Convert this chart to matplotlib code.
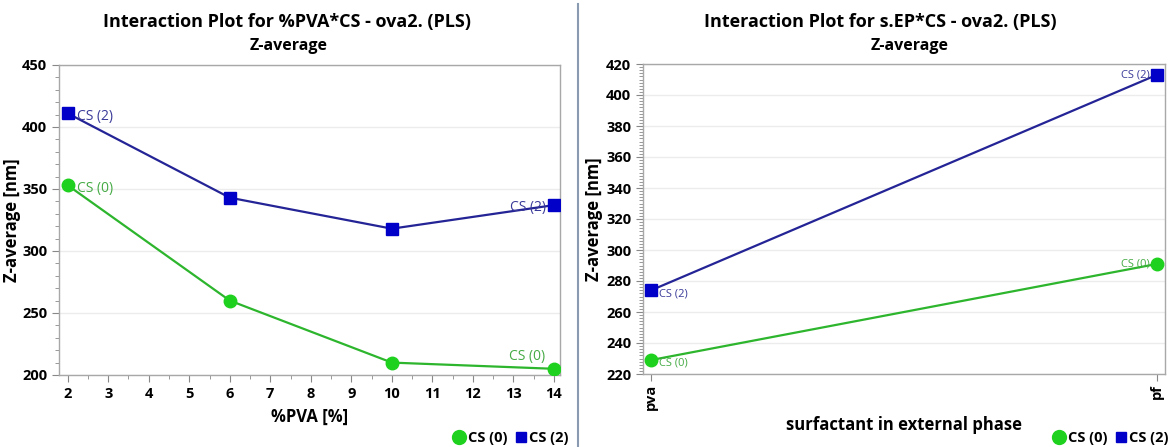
import matplotlib
matplotlib.use('Agg')

import matplotlib.pyplot as plt
from matplotlib.ticker import MultipleLocator
from matplotlib.lines import Line2D

plt.rcParams['font.family'] = ['Open Sans', 'DejaVu Sans']

# left panel: %PVA * CS
pva_levels = [2, 6, 10, 14]
pva_cs0 = [353, 260, 210, 205]
pva_cs2 = [411, 343, 318, 337]

# right panel: surfactant in external phase * CS
surf_labels = ['pva', 'pf']
surf_cs0 = [229, 291]
surf_cs2 = [274, 413]

series_names = ['CS (0)', 'CS (2)']

green_line = '#2db52d'
green_mark = '#1fd11f'
green_text = '#44aa44'
blue_line = '#242496'
blue_mark = '#0000c8'
blue_text = '#3a3a99'
spine_col = '#a8a8a8'

fig = plt.figure(figsize=(11.7, 4.47), dpi=100)
fig.patch.set_facecolor('white')

ax1 = fig.add_axes([59 / 1170, 1 - 375 / 447, (560 - 59) / 1170, (375 - 65) / 447])
ax2 = fig.add_axes([643 / 1170, 1 - 374 / 447, (1165 - 643) / 1170, (374 - 64) / 447])


def style_axes(ax):
    for s in ax.spines.values():
        s.set_color(spine_col)
        s.set_linewidth(1.0)
    ax.tick_params(which='both', colors='#888888', labelcolor='black')
    ax.tick_params(which='major', length=5)
    ax.tick_params(which='minor', length=3)
    ax.grid(axis='y', which='major', color='#ececec', linewidth=1.0)
    ax.set_axisbelow(True)
    for lab in ax.get_yticklabels() + ax.get_xticklabels():
        lab.set_fontweight('bold')
        lab.set_fontsize(10.5)


# ---- left panel
ax1.plot(pva_levels, pva_cs0, color=green_line, lw=1.6, marker='o', ms=9,
         mfc=green_mark, mec=green_mark, zorder=3)
ax1.plot(pva_levels, pva_cs2, color=blue_line, lw=1.6, marker='s', ms=8,
         mfc=blue_mark, mec=blue_mark, zorder=3)
ax1.set_xlim(1.785, 14.15)
ax1.set_ylim(200, 450)
ax1.set_xticks(range(2, 15))
ax1.xaxis.set_minor_locator(MultipleLocator(0.5))
ax1.yaxis.set_major_locator(MultipleLocator(50))
ax1.yaxis.set_minor_locator(MultipleLocator(10))
style_axes(ax1)
ax1.set_xlabel('%PVA [%]', fontsize=12, fontweight='bold', labelpad=5)

ax1.annotate('CS (2)', (pva_levels[0], pva_cs2[0]), xytext=(7, -2), textcoords='offset points',
             color=blue_text, fontsize=10, va='center', ha='left')
ax1.annotate('CS (0)', (pva_levels[0], pva_cs0[0]), xytext=(7, -2), textcoords='offset points',
             color=green_text, fontsize=10, va='center', ha='left')
ax1.annotate('CS (2)', (pva_levels[-1], pva_cs2[-1]), xytext=(-6, -2), textcoords='offset points',
             color=blue_text, fontsize=10, va='center', ha='right')
ax1.annotate('CS (0)', (pva_levels[-1], pva_cs0[-1]), xytext=(-6, 9), textcoords='offset points',
             color=green_text, fontsize=10, va='center', ha='right')

# ---- right panel
xs = list(range(len(surf_labels)))
ax2.plot(xs, surf_cs0, color=green_line, lw=1.6, marker='o', ms=9,
         mfc=green_mark, mec=green_mark, zorder=3, clip_on=False)
ax2.plot(xs, surf_cs2, color=blue_line, lw=1.6, marker='s', ms=8,
         mfc=blue_mark, mec=blue_mark, zorder=3, clip_on=False)
ax2.set_xlim(-0.016, 1.016)
ax2.set_ylim(220, 420)
ax2.set_xticks(xs)
ax2.set_xticklabels(surf_labels, rotation=90)
ax2.yaxis.set_major_locator(MultipleLocator(20))
ax2.yaxis.set_minor_locator(MultipleLocator(2))
style_axes(ax2)
ax2.tick_params(axis='x', pad=2)
ax2.set_xlabel('surfactant in external phase', fontsize=12, fontweight='bold', labelpad=4)

ax2.annotate('CS (2)', (xs[0], surf_cs2[0]), xytext=(6, -3), textcoords='offset points',
             color=blue_text, fontsize=8, va='center', ha='left')
ax2.annotate('CS (0)', (xs[0], surf_cs0[0]), xytext=(6, -2), textcoords='offset points',
             color=green_text, fontsize=8, va='center', ha='left')
ax2.annotate('CS (2)', (xs[1], surf_cs2[1]), xytext=(-5, 0), textcoords='offset points',
             color=blue_text, fontsize=8, va='center', ha='right')
ax2.annotate('CS (0)', (xs[1], surf_cs0[1]), xytext=(-5, 0), textcoords='offset points',
             color=green_text, fontsize=8, va='center', ha='right')

# ---- y labels placed by hand so they sit where the reference has them
fig.text(12 / 1170, 1 - 220 / 447, 'Z-average [nm]', rotation=90, ha='center', va='center',
         fontsize=12, fontweight='bold')
fig.text(594 / 1170, 1 - 219 / 447, 'Z-average [nm]', rotation=90, ha='center', va='center',
         fontsize=12, fontweight='bold')

# ---- titles
fig.text(287 / 1170, 1 - 22 / 447, 'Interaction Plot for %PVA*CS - ova2. (PLS)',
         ha='center', va='center', fontsize=13, fontweight='bold')
fig.text(289 / 1170, 1 - 46 / 447, 'Z-average', ha='center', va='center',
         fontsize=11.5, fontweight='bold')
fig.text(880 / 1170, 1 - 22 / 447, 'Interaction Plot for s.EP*CS - ova2. (PLS)',
         ha='center', va='center', fontsize=13, fontweight='bold')
fig.text(910 / 1170, 1 - 46 / 447, 'Z-average', ha='center', va='center',
         fontsize=11.5, fontweight='bold')

# ---- legends
handles = [
    Line2D([], [], ls='none', marker='o', ms=10, mfc=green_mark, mec=green_mark),
    Line2D([], [], ls='none', marker='s', ms=7, mfc=blue_mark, mec=blue_mark),
]
for x_anchor in (582 / 1170, 1182 / 1170):
    leg = fig.legend(handles, series_names, loc='lower right',
                     bbox_to_anchor=(x_anchor, -0.025), ncol=2, frameon=False,
                     handletextpad=0.1, columnspacing=0.4, handlelength=1.0,
                     prop={'weight': 'bold', 'size': 10.5})

# ---- divider between panels
fig.add_artist(Line2D([578 / 1170, 578 / 1170], [0, 0.99], color='#8a9ab0', lw=1.5))

plt.savefig('out.png', dpi=100)
